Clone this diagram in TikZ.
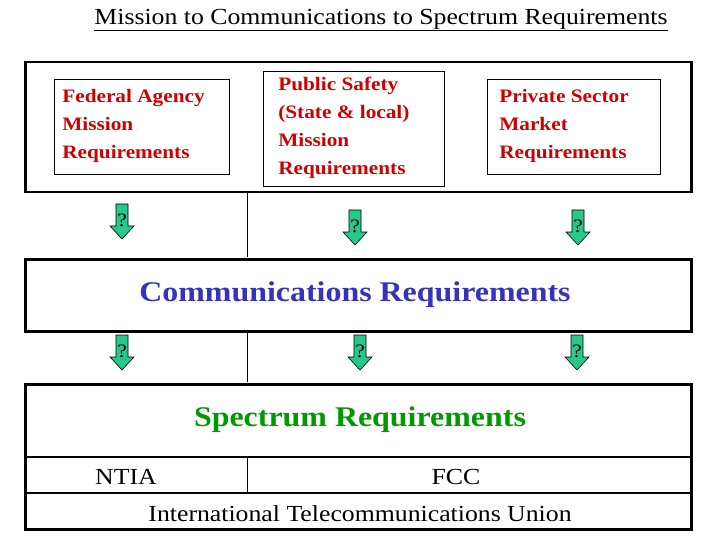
\documentclass[tikz,border=0pt]{standalone}
\usepackage{fontspec}
\setmainfont[FakeStretch=1.12]{Liberation Serif}
\definecolor{txtred}{RGB}{204,0,0}
\definecolor{cblue}{RGB}{51,51,187}
\definecolor{sgreen}{RGB}{0,153,0}
\definecolor{arr}{RGB}{40,200,140}
\begin{document}
\begin{tikzpicture}[x=1pt,y=-1pt,
  thickbox/.style={draw,line width=2.5pt},
  inbox/.style={draw,line width=0.6pt,text=txtred,align=left,font=\bfseries\fontsize{19}{28}\selectfont,inner sep=0pt},
  qarrow/.pic={\draw[fill=arr,line width=0.6pt] (-6,0)--(6,0)--(6,22)--(12,22)--(0,35)--(-12,22)--(-6,22)--cycle;
    \node[font=\fontsize{19}{19}\selectfont] at (0,16) {?};}]
\useasboundingbox (0,0) rectangle (720,540);
\node (title) at (381,20) {\fontsize{23}{24}\selectfont\underline{Mission to Communications to Spectrum Requirements}};
\node[thickbox,minimum width=666,minimum height=130,anchor=north west] (top) at (24,61) {};
\node[draw,line width=0.6pt,minimum width=175,minimum height=95,anchor=north west] (fed) at (54,79) {};
\node[inbox,draw=none,anchor=west] (fedt) at (62,126) {Federal Agency\\Mission\\Requirements};
\node[draw,line width=0.6pt,minimum width=181,minimum height=115,anchor=north west] (pub) at (263,71) {};
\node[inbox,draw=none,anchor=west] (pubt) at (278,128) {Public Safety\\(State \& local)\\Mission\\Requirements};
\node[draw,line width=0.6pt,minimum width=173,minimum height=95,anchor=north west] (priv) at (487,79) {};
\node[inbox,draw=none,anchor=west] (privt) at (499,126) {Private Sector\\Market\\Requirements};
\node[thickbox,minimum width=666,minimum height=72,anchor=north west] (comm) at (24,258) {};
\node[text=cblue,font=\bfseries\fontsize{28.5}{28}\selectfont] (commt) at (355,295) {Communications Requirements};
\node[thickbox,minimum width=666,minimum height=145,anchor=north west] (spec) at (24,383) {};
\node[text=sgreen,font=\bfseries\fontsize{28.5}{28}\selectfont] (spt) at (360,420) {Spectrum Requirements};
\coordinate (r1l) at (24,457); \coordinate (r1r) at (690,457);
\coordinate (r2l) at (24,493); \coordinate (r2r) at (690,493);
\draw[line width=1.5pt] (r1l)--(r1r) (r2l)--(r2r);
\coordinate (d1) at (247,457); \coordinate (d2) at (247,493);
\draw[line width=0.6pt] (d1)--(d2);
\node[font=\fontsize{23}{23}\selectfont] (ntia) at (126,477) {NTIA};
\node[font=\fontsize{23}{23}\selectfont] (fcc) at (456,477) {FCC};
\node[font=\fontsize{23}{23}\selectfont] (itu) at (360,514) {International Telecommunications Union};
\draw[line width=0.6pt] (247,191.5)--(247,256.5) (247,331.5)--(247,381.5);
\pic at (122,204) {qarrow};
\pic at (355,210) {qarrow};
\pic at (578,210) {qarrow};
\pic at (122,335) {qarrow};
\pic at (360,335) {qarrow};
\pic at (577,335) {qarrow};
\end{tikzpicture}
\end{document}
